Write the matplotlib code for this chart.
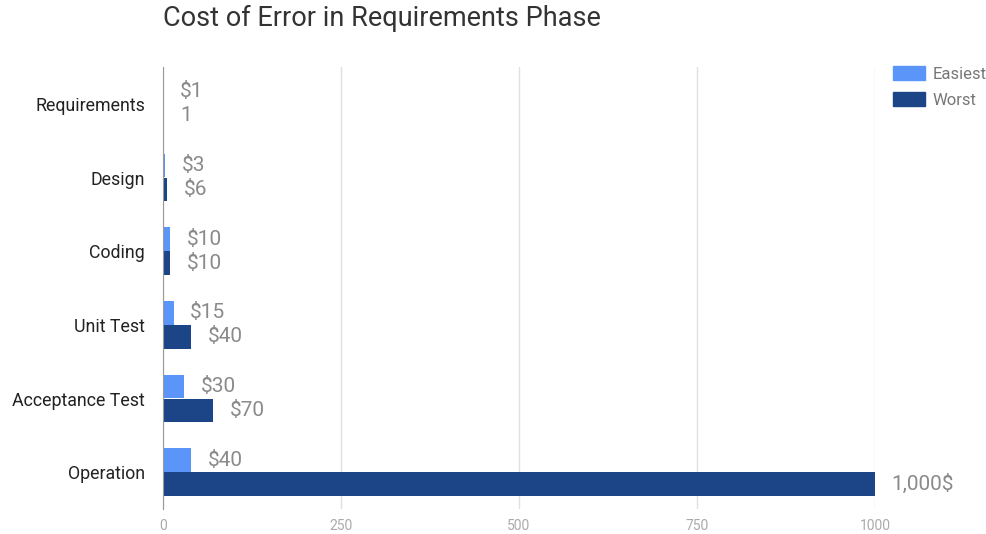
import matplotlib.pyplot as plt
import numpy as np
from matplotlib.patches import Patch

plt.rcParams['font.family'] = ['Roboto', 'DejaVu Sans']

### data
phases = ["Requirements", "Design", "Coding", "Unit Test", "Acceptance Test", "Operation"]
easiest = [1, 3, 10, 15, 30, 40]
worst = [1, 6, 10, 40, 70, 1000]
easiest_lbl = ["$1", "$3", "$10", "$15", "$30", "$40"]
worst_lbl = ["1", "$6", "$10", "$40", "$70", "1,000$"]
xticks = [0, 250, 500, 750, 1000]

c_easy = "#5b95f9"
c_worst = "#1c4587"

fig = plt.figure(figsize=(9.86, 5.34), dpi=100)
ax = fig.add_axes([0.1653, 0.0468, 0.7221, 0.8277])

y = np.arange(len(phases))
h = 0.32
off = 0.163
ax.barh(y - off, easiest, height=h, color=c_easy, zorder=3)
ax.barh(y + off, worst, height=h, color=c_worst, zorder=3)

for i in range(len(phases)):
    ax.annotate(easiest_lbl[i], (easiest[i], y[i] - off), xytext=(12, 0), textcoords="offset points",
                va="center", ha="left", fontsize=15, color="#8a8a8a")
    ax.annotate(worst_lbl[i], (worst[i], y[i] + off), xytext=(12, 0), textcoords="offset points",
                va="center", ha="left", fontsize=15, color="#8a8a8a")

ax.set_xlim(0, 1000)
ax.set_ylim(len(phases) - 0.5, -0.5)
ax.set_yticks(y)
ax.set_yticklabels(phases, fontsize=12.8, color="#222222")
ax.set_xticks(xticks)
ax.set_xticklabels([str(t) for t in xticks], fontsize=10, color="#aaaaaa")
ax.tick_params(axis="both", length=0)
ax.tick_params(axis="y", pad=13)
ax.tick_params(axis="x", pad=7)
for s in ["top", "right", "bottom"]:
    ax.spines[s].set_visible(False)
ax.spines["left"].set_color("#999999")
ax.spines["left"].set_zorder(4)
ax.grid(axis="x", color="#e0e0e0", linewidth=1, zorder=0)
ax.set_axisbelow(True)

handles = [Patch(color=c_easy, label="Easiest"), Patch(color=c_worst, label="Worst")]
fig.legend(handles=handles, loc="upper left", bbox_to_anchor=(0.9057, 0.877), frameon=False,
           fontsize=12, labelcolor="#777777", handlelength=1.9, handleheight=0.96,
           handletextpad=0.45, labelspacing=0.6, borderaxespad=0, borderpad=0)

fig.text(0.1653, 0.965, "Cost of Error in Requirements Phase", fontsize=19.5, color="#333333",
         va="center", ha="left")

plt.savefig("out.png", dpi=100)
